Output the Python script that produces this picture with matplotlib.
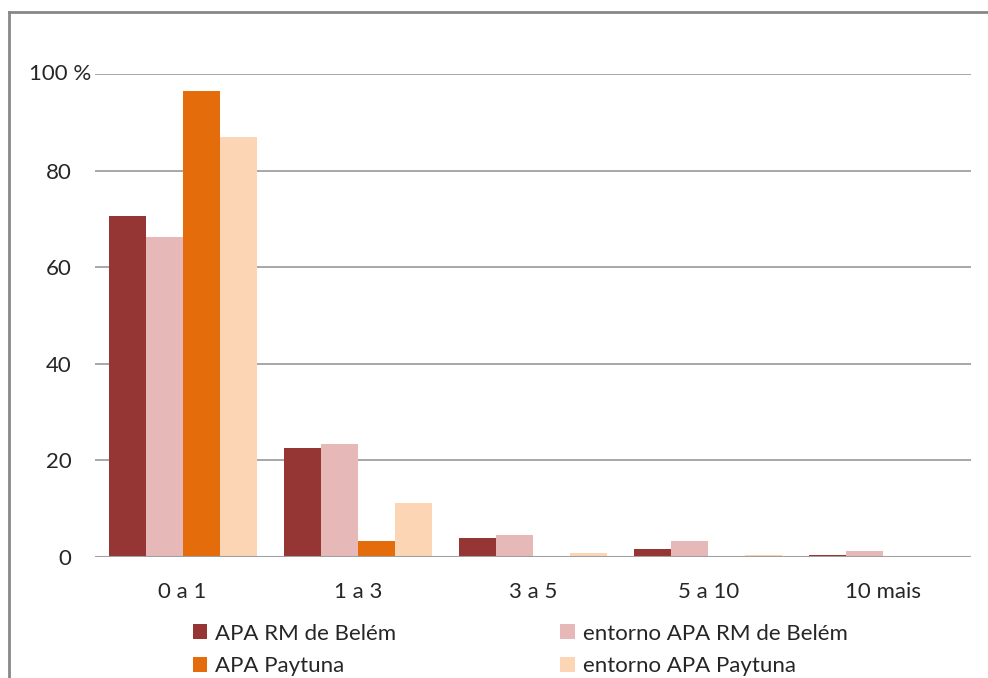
import matplotlib
matplotlib.use("Agg")
import matplotlib.pyplot as plt
import numpy as np
from matplotlib.patches import Patch
from matplotlib.lines import Line2D

categories = ["0 a 1", "1 a 3", "3 a 5", "5 a 10", "10 mais"]
apa_belem = [70.6, 22.6, 3.9, 1.7, 0.5]
entorno_belem = [66.3, 23.4, 4.6, 3.3, 1.2]
apa_paytuna = [96.5, 3.3, 0.0, 0.0, 0.0]
entorno_paytuna = [87.0, 11.2, 0.9, 0.4, 0.0]
series_names = ["APA RM de Belém", "entorno APA RM de Belém", "APA Paytuna", "entorno APA Paytuna"]
colors = ["#963634", "#E6B9B8", "#E46C0A", "#FCD5B5"]
yticks = [0, 20, 40, 60, 80]

plt.rcParams['font.family'] = ['Lato', 'DejaVu Sans']

W, H = 988, 678
fig = plt.figure(figsize=(W/100, H/100), dpi=100)
ax = fig.add_axes([95/W, 1-557/H, (971-95)/W, (557-74)/H])

x = np.arange(len(categories))
bw = 0.211
data = [apa_belem, entorno_belem, apa_paytuna, entorno_paytuna]
for i, (vals, c) in enumerate(zip(data, colors)):
    ax.bar(x + (i-1.5)*bw, vals, width=bw, color=c, zorder=3, linewidth=0)

ax.set_xlim(-0.5, len(categories)-0.5)
ax.set_ylim(0, 100)
for v in [20, 40, 60, 80, 100]:
    ax.axhline(v, color="#a0a0a0", lw=1.3, zorder=1)
ax.axhline(0, color="#a0a0a0", lw=1.5, zorder=4)
for s in ax.spines.values():
    s.set_visible(False)
ax.set_yticks(yticks)
ax.set_yticklabels([str(v) for v in yticks])
ax.set_xticks(x)
ax.set_xticklabels(categories)
ax.tick_params(length=0, labelsize=16, colors="#262626")
ax.tick_params(axis='y', pad=17)
ax.tick_params(axis='x', pad=18)
fig.text(29/W, 1-74/H, "100 %", fontsize=16, color="#262626", ha="left", va="center")

handles = [Patch(facecolor=c, edgecolor='none') for c in colors]
order = [0, 2, 1, 3]
leg = fig.legend([handles[i] for i in order], [series_names[i] for i in order],
                 ncol=2, loc="upper left", bbox_to_anchor=(186/W, 1-617/H),
                 frameon=False, fontsize=16, handlelength=0.65, handleheight=0.65,
                 handletextpad=0.35, columnspacing=7.4, labelspacing=0.55,
                 borderaxespad=0, borderpad=0.3,
                 labelcolor="#262626")

fig.add_artist(Line2D([9/W, 9/W], [0, 1-12/H], color="#888888", lw=2, transform=fig.transFigure))
fig.add_artist(Line2D([9/W, 1], [1-12/H, 1-12/H], color="#888888", lw=2, transform=fig.transFigure))

fig.savefig("out.png", dpi=100)
